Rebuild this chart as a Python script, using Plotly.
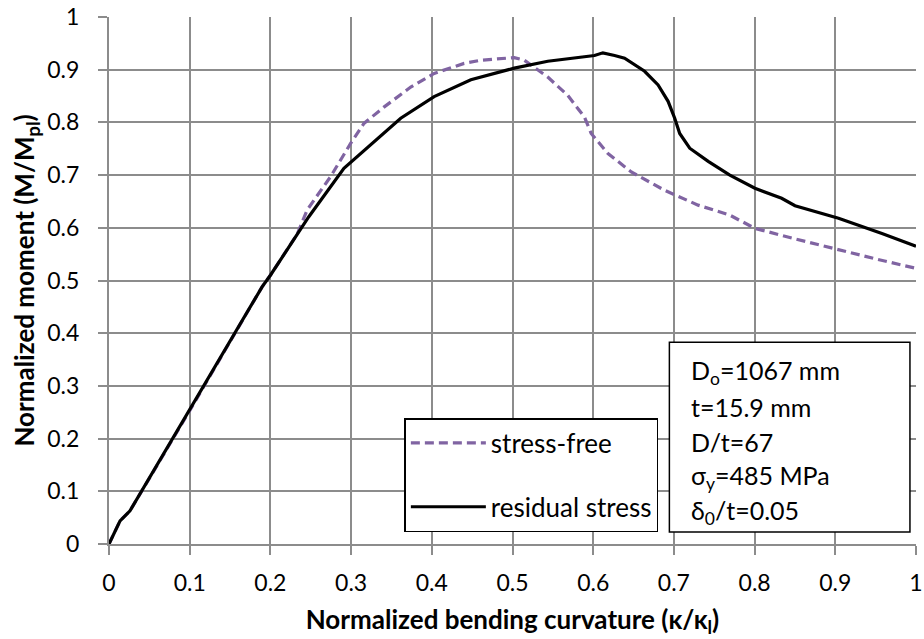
import plotly.graph_objects as go

# Data
rs_x = [0.0, 0.0137, 0.026, 0.1, 0.1897, 0.2, 0.2332, 0.2476, 0.2911, 0.3283, 0.3615, 0.4029,
        0.4484, 0.5022, 0.5437, 0.6016, 0.612, 0.6265, 0.6389, 0.6637, 0.6804, 0.6928,
        0.701, 0.7072, 0.7196, 0.7425, 0.7693, 0.8004, 0.8335, 0.8501, 0.904, 0.9578, 1.0]
rs_y = [0.0, 0.044, 0.063, 0.255, 0.488, 0.51, 0.586, 0.621, 0.713, 0.764, 0.808, 0.849,
        0.881, 0.903, 0.916, 0.927, 0.932, 0.927, 0.922, 0.897, 0.871, 0.840,
        0.808, 0.779, 0.751, 0.726, 0.700, 0.675, 0.656, 0.642, 0.618, 0.589, 0.565]

sf_x = [0.0, 0.0137, 0.026, 0.1, 0.1897, 0.2, 0.2332, 0.2456, 0.2745, 0.2994, 0.3159, 0.3407,
        0.3739, 0.4029, 0.4401, 0.4609, 0.5022, 0.5147, 0.5437, 0.5686, 0.5892, 0.5975,
        0.6183, 0.6472, 0.6886, 0.730, 0.7693, 0.8004, 0.85, 0.904, 0.95, 1.0]
sf_y = [0.0, 0.044, 0.063, 0.253, 0.488, 0.51, 0.588, 0.634, 0.697, 0.760, 0.798, 0.829,
        0.867, 0.893, 0.912, 0.918, 0.923, 0.918, 0.886, 0.851, 0.810, 0.779,
        0.741, 0.706, 0.671, 0.643, 0.624, 0.599, 0.579, 0.558, 0.541, 0.523]

tick_vals = [0, 0.1, 0.2, 0.3, 0.4, 0.5, 0.6, 0.7, 0.8, 0.9, 1]
tick_text = ["0", "0.1", "0.2", "0.3", "0.4", "0.5", "0.6", "0.7", "0.8", "0.9", "1"]

info_lines = ["D<sub>o</sub>=1067 mm", "t=15.9 mm", "D/t=67",
              "σ<sub>y</sub>=485 MPa", "δ<sub>0</sub>/t=0.05"]

FONT = "Lato"
GRID = "#8c8c8c"

fig = go.Figure()
fig.add_trace(go.Scatter(x=sf_x, y=sf_y, mode="lines", name="stress-free",
                         line=dict(color="#8064A2", width=3.2, dash="9px,5px"),
                         legendgroup="a"))
fig.add_trace(go.Scatter(x=rs_x, y=rs_y, mode="lines", name="residual stress",
                         line=dict(color="black", width=3.2),
                         legendgroup="b"))

axis_common = dict(
    showgrid=True, gridcolor=GRID, gridwidth=2,
    showline=True, linecolor=GRID, linewidth=2,
    ticks="outside", ticklen=9, tickcolor=GRID, tickwidth=2,
    zeroline=False, tickvals=tick_vals, ticktext=tick_text,
    tickfont=dict(family=FONT, size=23, color="black"),
    range=[0, 1], automargin=False,
)

fig.update_layout(
    width=924, height=639,
    margin=dict(l=109, r=8, t=17, b=95),
    paper_bgcolor="white", plot_bgcolor="white",
    font=dict(family=FONT, color="black"),
    xaxis=dict(**axis_common,
               title=dict(text="<b>Normalized bending curvature (κ/κ<sub>l</sub>)</b>",
                          font=dict(family=FONT, size=26), standoff=16),
               ticklabelstandoff=8),
    yaxis=dict(**axis_common,
               title=dict(text="<b>Normalized moment (M/M<sub>pl</sub>)</b>",
                          font=dict(family=FONT, size=26), standoff=5),
               ticklabelstandoff=14),
    legend=dict(x=0.366, y=0.239, xanchor="left", yanchor="top",
                bgcolor="white", bordercolor="black", borderwidth=1.5,
                font=dict(family=FONT, size=26), itemwidth=75,
                tracegroupgap=27, traceorder="grouped"),
    showlegend=True,
)

# info box
fig.add_shape(type="rect", xref="paper", yref="paper",
              x0=0.6944, x1=0.9925, y0=0.0228, y1=0.383,
              line=dict(color="black", width=1.5), fillcolor="white", layer="above")
ys = [0.3268, 0.2604, 0.1940, 0.1276, 0.0612]
for txt, yy in zip(info_lines, ys):
    fig.add_annotation(xref="paper", yref="paper", x=0.7193, y=yy, text=txt,
                       showarrow=False, xanchor="left", yanchor="middle",
                       font=dict(family=FONT, size=25, color="black"))

fig.write_html("out.html")
